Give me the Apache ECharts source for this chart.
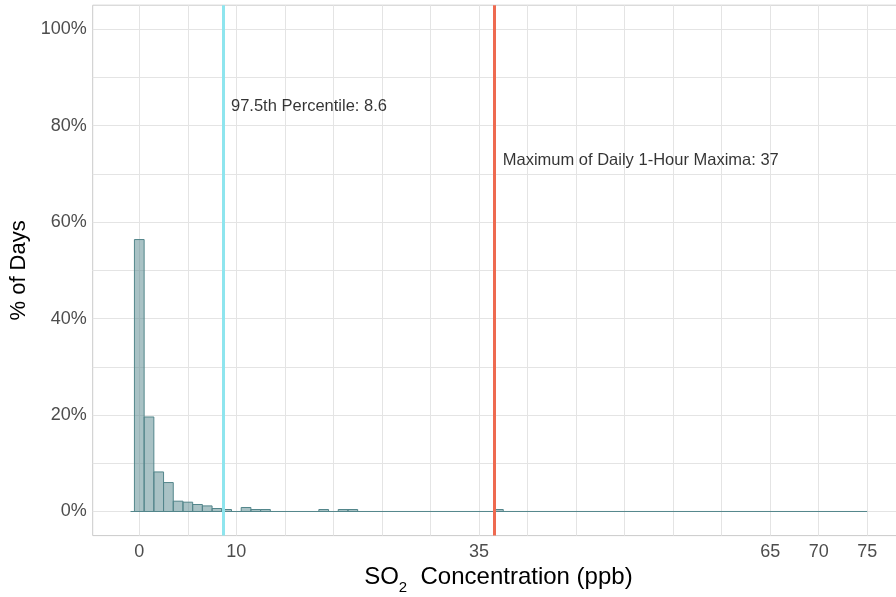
<!DOCTYPE html>
<html>
<head>
<meta charset="utf-8">
<script src="https://cdn.jsdelivr.net/npm/echarts@6/dist/echarts.min.js"></script>
<style>
html,body{margin:0;padding:0;background:#fff;}
#chart{width:896px;height:597px;}
</style>
</head>
<body>
<div id="chart"></div>
<script>
// Histogram bins (bin centre, ppb) and share of days (%)
const binCenters = [0, 1, 2, 3, 4, 5, 6, 7, 8, 9, 11, 12, 13, 19, 21, 22, 37];
const dayPercents = [56.4, 19.6, 8.2, 6.0, 2.14, 1.93, 1.45, 1.16, 0.62, 0.41, 0.83, 0.41, 0.41, 0.41, 0.41, 0.41, 0.41];
// zero-count baseline of the histogram
const baselineRange = [-0.9, 75];
// reference lines
const percentile975 = 8.6;
const maxDailyMax = 36.6;
const annotationTexts = ['97.5th Percentile: 8.6', 'Maximum of Daily 1-Hour Maxima: 37'];
const annotationPoints = [[9.45, 83.9], [37.45, 72.9]];
// axis ticks
const xGridValues = [0, 5, 10, 15, 20, 25, 30, 35, 40, 45, 50, 55, 60, 65, 70, 75];
const xTickLabels = [0, 10, 35, 65, 70, 75];
const yGridValues = [0, 10, 20, 30, 40, 50, 60, 70, 80, 90, 100];
const yTickLabels = [0, 20, 40, 60, 80, 100];

const FONT = '"Liberation Sans", Arial, sans-serif';
const chart = echarts.init(document.getElementById('chart'), null, {renderer: 'canvas'});

const barData = binCenters.map((c, i) => [c, dayPercents[i]]);

chart.setOption({
  animation: false,
  backgroundColor: '#ffffff',
  grid: {
    left: 92.7, right: -8.1, top: 5.2, bottom: 61.4,
    show: true, borderColor: '#cbcbcb', borderWidth: 1,
    containLabel: false, outerBoundsMode: 'none'
  },
  xAxis: {
    type: 'value', min: -4.8, max: 78.8,
    axisLine: {show: false},
    axisTick: {show: false, customValues: xGridValues},
    splitLine: {show: true, lineStyle: {color: '#e4e4e4', width: 1}},
    axisLabel: {
      customValues: xTickLabels, color: '#4d4d4d', fontSize: 18,
      fontFamily: FONT, margin: 7
    },
    name: '{a|SO}{s|2}{a|  Concentration (ppb)}',
    nameLocation: 'middle', nameGap: 23,
    nameTextStyle: {
      rich: {
        a: {fontSize: 24, lineHeight: 35, color: '#000', fontFamily: FONT},
        s: {fontSize: 15, lineHeight: 15, verticalAlign: 'bottom', color: '#000', fontFamily: FONT}
      }
    }
  },
  yAxis: {
    type: 'value', min: -5, max: 105,
    axisLine: {show: false},
    axisTick: {show: false, customValues: yGridValues},
    splitLine: {show: true, lineStyle: {color: '#e4e4e4', width: 1}},
    axisLabel: {
      customValues: yTickLabels, formatter: '{value}%', color: '#4d4d4d',
      fontSize: 18, fontFamily: FONT, margin: 6
    },
    name: '% of Days', nameLocation: 'middle', nameGap: 57,
    nameTextStyle: {fontSize: 22, color: '#000', fontFamily: FONT}
  },
  series: [
    {
      type: 'line',
      data: baselineRange.map(x => [x, 0]),
      symbol: 'none',
      lineStyle: {color: '#53868B', width: 1},
      silent: true,
      z: 2,
      markLine: {
        silent: true,
        symbol: ['none', 'none'],
        label: {show: false},
        data: [
          {xAxis: percentile975, lineStyle: {color: '#8EE5EE', width: 3, type: 'solid'}},
          {xAxis: maxDailyMax, lineStyle: {color: '#EE6A50', width: 3, type: 'solid'}}
        ],
        z: 5
      }
    },
    {
      type: 'custom',
      data: barData,
      z: 3,
      renderItem: function (params, api) {
        const x = api.value(0), y = api.value(1);
        const p0 = api.coord([x - 0.5, y]);
        const p1 = api.coord([x + 0.5, 0]);
        return {
          type: 'rect',
          shape: {x: p0[0], y: p0[1], width: p1[0] - p0[0], height: p1[1] - p0[1]},
          style: {fill: 'rgba(83,134,139,0.5)', stroke: '#53868B', lineWidth: 1}
        };
      }
    },
    {
      type: 'scatter',
      data: annotationPoints.map((p, i) => ({value: p, name: annotationTexts[i]})),
      symbolSize: 0,
      silent: true,
      z: 6,
      label: {
        show: true, position: 'right', distance: 0,
        formatter: p => p.name,
        color: '#000000', fontSize: 16.5, fontFamily: FONT
      }
    }
  ]
});
</script>
</body>
</html>
